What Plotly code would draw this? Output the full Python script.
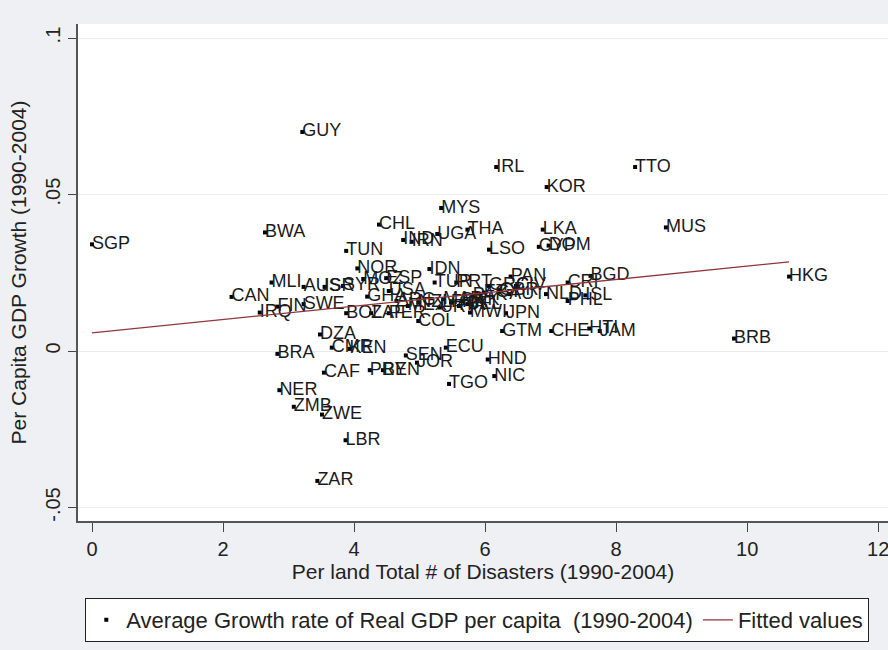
import plotly.graph_objects as go

countries = ["SGP","GUY","IRL","TTO","KOR","MYS","MUS","BWA","CHL","THA","UGA","LKA",
             "IND","IRN","LSO","CYP","DOM","TUN","NOR","IDN","PAN","BGD","CRI","HKG",
             "MLI","AUS","ISR","SYR","CAN","IRQ","FIN","SWE","GHA","BOL","ZAF","PER",
             "COL","JPN","GTM","CHE","HTI","JAM","BRB","DZA","CMR","KEN","BRA","SEN",
             "ECU","JOR","HND","NIC","TGO","CAF","PRY","BEN","NER","ZMB","ZWE","LBR",
             "ZAR","MOZ","ESP","TUR","PRT","USA","GRC","CIV","AUT","NLD","PHL","ISL",
             "PAK","MAR","FRA","DNK","ITA","BEL","MWI","NZL","MEX","ARG","URY","EGY","GBR"]
disasters = [0.00,3.21,6.17,8.29,6.94,5.33,8.76,2.64,4.38,5.73,5.27,6.88,
             4.75,4.88,6.06,6.82,6.97,3.88,4.05,5.15,6.39,7.61,7.26,10.64,
             2.74,3.23,3.55,3.83,2.13,2.56,2.83,3.23,4.20,3.88,4.26,4.53,
             4.98,6.32,6.26,7.01,7.59,7.75,9.80,3.48,3.66,3.93,2.83,4.79,
             5.40,4.96,6.04,6.14,5.45,3.54,4.24,4.44,2.86,3.08,3.51,3.87,
             3.44,4.14,4.49,5.23,5.56,4.53,6.06,6.47,6.37,6.93,7.26,7.53,
             5.81,5.36,5.48,5.64,5.60,5.73,5.77,4.98,4.82,4.65,5.31,5.98,6.22]
growth = [0.0341,0.0700,0.0588,0.0588,0.0524,0.0457,0.0395,0.0379,0.0404,0.0388,0.0374,0.0388,
          0.0355,0.0349,0.0324,0.0333,0.0337,0.0320,0.0264,0.0262,0.0238,0.0240,0.0219,0.0238,
          0.0219,0.0205,0.0205,0.0208,0.0173,0.0123,0.0142,0.0150,0.0174,0.0121,0.0121,0.0121,
          0.0096,0.0121,0.0064,0.0064,0.0072,0.0064,0.0040,0.0053,0.0011,0.0007,-0.0009,-0.0014,
          0.0011,-0.0037,-0.0027,-0.0080,-0.0105,-0.0069,-0.0061,-0.0061,-0.0125,-0.0178,-0.0203,-0.0285,
          -0.0415,0.0230,0.0233,0.0219,0.0219,0.0192,0.0208,0.0208,0.0182,0.0182,0.0160,0.0178,
          0.0176,0.0166,0.0155,0.0160,0.0144,0.0150,0.0123,0.0155,0.0144,0.0160,0.0139,0.0187,0.0192]

fit_x = [0.0, 10.64]
fit_y = [0.0058, 0.0285]

x_ticks = [0, 2, 4, 6, 8, 10, 12]
y_ticks = [-0.05, 0, 0.05, 0.1]
y_ticktext = ["-.05", "0", ".05", ".1"]

FONT = "Liberation Sans, Arial, sans-serif"
BG = "#eef0f4"

fig = go.Figure()
fig.add_trace(go.Scatter(
    x=disasters, y=growth, mode="markers",
    marker=dict(symbol="square", size=4, color="black"),
    name="Average Growth rate of Real GDP per capita  (1990-2004)",
))
fig.add_trace(go.Scatter(
    x=disasters, y=growth, mode="text", text=countries,
    textposition="middle right",
    textfont=dict(family=FONT, size=18, color="#1a1a1a"),
    showlegend=False, hoverinfo="skip",
))
fig.add_trace(go.Scatter(
    x=fit_x, y=fit_y, mode="lines",
    line=dict(color="#90353b", width=1.3),
    name="Fitted values",
))

fig.update_layout(
    width=888, height=650,
    margin=dict(l=78, r=0, t=24, b=129, autoexpand=False),
    paper_bgcolor=BG,
    plot_bgcolor="white",
    font=dict(family=FONT, size=20, color="#222"),
    legend=dict(
        orientation="h", x=0.009, xanchor="left", y=-0.155, yanchor="top",
        bgcolor="white", bordercolor="#222", borderwidth=1,
        font=dict(family=FONT, size=22, color="#222"),
        itemsizing="trace", tracegroupgap=0,
    ),
)
fig.update_xaxes(
    range=[-0.214, 12.15], tickvals=x_ticks, ticks="outside", ticklen=9,
    tickcolor="#444", showline=True, linecolor="#555", linewidth=1.5,
    showgrid=False, zeroline=False, automargin=False, ticklabeloverflow="allow",
    tickfont=dict(size=20),
    title=dict(text="Per land Total # of Disasters (1990-2004)", font=dict(size=21), standoff=0),
)
fig.update_yaxes(
    range=[-0.0543, 0.1045], tickvals=y_ticks, ticktext=y_ticktext, ticks="outside",
    ticklen=8, tickcolor="#444", tickangle=-90, showline=True, linecolor="#555",
    linewidth=1.5, showgrid=True, gridcolor="#e9edf1", gridwidth=1, zeroline=False,
    automargin=False,
    tickfont=dict(size=20),
    title=dict(text="Per Capita GDP Growth (1990-2004)", font=dict(size=21), standoff=10),
)

fig.write_html(
    "out.html",
    config={"displayModeBar": False},
    post_script="document.body.style.margin='0';document.body.style.background='" + BG + "';",
)
